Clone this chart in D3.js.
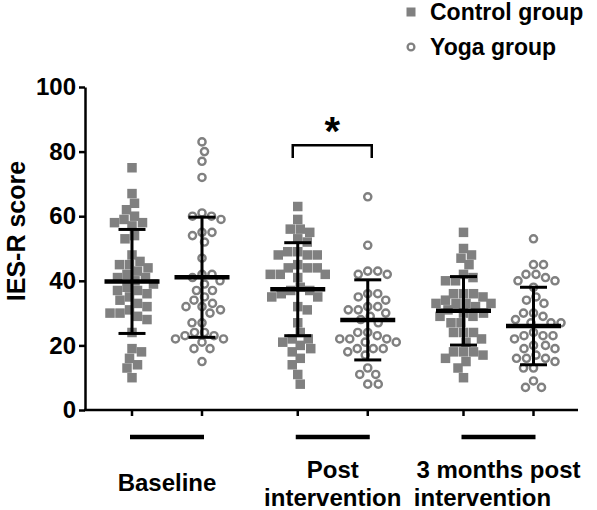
<!DOCTYPE html>
<html>
<head>
<meta charset="utf-8">
<script src="https://cdn.jsdelivr.net/npm/d3@7"></script>
<style>
  html, body { margin: 0; padding: 0; background: #fff; }
  svg { display: block; font-family: "Liberation Sans", Arial, sans-serif; font-weight: bold; }
</style>
</head>
<body>
<svg id="chart" width="597" height="510"></svg>
<script>
// ---------------- DATA ----------------
const groups = ["Baseline", "Post intervention", "3 months post intervention"];
const groupLabelLines = [["Baseline"], ["Post", "intervention"], ["3 months post", "intervention"]];
const series = ["Control group", "Yoga group"];
const yTicks = [0, 20, 40, 60, 80, 100];
const yTitle = "IES-R score";

const controlBaseline = [75, 67, 64, 62, 60, 59, 58, 58, 57, 54, 53, 48, 46, 45, 45, 44, 43, 42, 41, 41, 40, 39, 38, 37, 37, 36, 35, 34, 33, 32, 31, 30, 30, 29, 28, 24, 19, 18, 16, 14, 13, 10];
const yogaBaseline = [83, 80, 77, 72, 61, 60, 59, 60, 55, 54, 55, 52, 47, 42, 42, 41, 40, 39, 37, 37, 34, 35, 32, 32, 33, 30, 31, 27, 27, 23, 24, 23, 24, 22, 19, 22, 21, 19, 15];
const controlPost = [63, 59, 56, 55, 56, 53, 52, 49, 48, 48, 48, 49, 44, 44, 45, 44, 42, 42, 42, 41, 38, 37, 36, 37, 35, 35, 31, 32, 27, 24, 21, 22, 20, 22, 19, 18, 16, 14, 11, 8];
const yogaPost = [66, 51, 43, 42, 42, 43, 36, 35, 36, 34, 31, 30, 32, 32, 31, 28, 29, 27, 24, 24, 23, 22, 21, 22, 22, 21, 19, 19, 18, 19, 17, 13, 11, 8, 8, 11];
const control3m = [55, 50, 48, 47, 45, 42, 41, 40, 40, 36, 36, 35, 36, 34, 33, 33, 33, 33, 32, 31, 30, 29, 29, 30, 27, 27, 24, 24, 24, 22, 21, 18, 18, 17, 18, 16, 15, 13, 10];
const yoga3m = [53, 45, 45, 42, 41, 40, 40, 42, 38, 35, 33, 34, 30, 30, 29, 28, 27, 27, 27, 24, 23, 22, 23, 23, 20, 19, 19, 20, 17, 16, 15, 16, 16, 13, 13, 9, 7, 7];

const controlMeans = [39.8, 37.4, 30.7];
const controlSD = [16.1, 14.4, 10.6];
const yogaMeans = [41.1, 27.9, 26.0];
const yogaSD = [18.6, 12.4, 12.0];

const significance = [{ group: "Post intervention", level: 82, label: "*" }];

// ---------------- LAYOUT ----------------
const svg = d3.select("#chart");
const grey = "#808080";
const plotTop = 87, plotBottom = 410, axisX = 85, axisRight = 578;

const y = d3.scaleLinear().domain([0, 100]).range([plotBottom, plotTop]);
const xGroup = d3.scalePoint().domain(groups).range([167, 498.5]);
const xSeries = d3.scalePoint().domain(series).range([-35, 35]);
const xPos = (g, s) => xGroup(g) + xSeries(s);

const dataSets = [
  { group: groups[0], series: series[0], values: controlBaseline },
  { group: groups[0], series: series[1], values: yogaBaseline },
  { group: groups[1], series: series[0], values: controlPost },
  { group: groups[1], series: series[1], values: yogaPost },
  { group: groups[2], series: series[0], values: control3m },
  { group: groups[2], series: series[1], values: yoga3m }
];
const stats = [];
groups.forEach((g, i) => {
  stats.push({ group: g, series: series[0], mean: controlMeans[i], sd: controlSD[i] });
  stats.push({ group: g, series: series[1], mean: yogaMeans[i], sd: yogaSD[i] });
});

// beeswarm layout (collision-avoiding horizontal offsets)
function swarm(values, cx, d) {
  const pts = values.map(v => ({ v, y: y(v) })).sort((a, b) => a.y - b.y);
  const placed = [];
  for (const p of pts) {
    let off = 0;
    for (let k = 0; k < 400; k++) {
      const cand = (k % 2 === 1 ? 1 : -1) * Math.ceil(k / 2) * 0.5;
      if (!placed.some(q => Math.hypot(q.off - cand, q.y - p.y) < d)) { off = cand; break; }
    }
    p.off = off;
    placed.push(p);
  }
  return placed.map(p => ({ v: p.v, x: cx + p.off, y: p.y }));
}

// ---------------- AXES ----------------
const yAxis = d3.axisLeft(y).tickValues(yTicks).tickSize(6).tickPadding(3).tickSizeOuter(0);
const gy = svg.append("g").attr("transform", `translate(${axisX},0)`).call(yAxis);
gy.select(".domain").attr("stroke", "#000").attr("stroke-width", 2.5);
gy.selectAll(".tick line").attr("stroke", "#000").attr("stroke-width", 2.5);
gy.selectAll(".tick text").attr("fill", "#000").attr("font-size", 24).attr("font-weight", "bold")
  .attr("font-family", "'Liberation Sans', Arial, sans-serif");

// x axis baseline with ticks at each series position
svg.append("line").attr("x1", axisX - 1).attr("x2", axisRight)
  .attr("y1", plotBottom).attr("y2", plotBottom).attr("stroke", "#000").attr("stroke-width", 2.5);
svg.append("g").selectAll("line").data(dataSets).join("line")
  .attr("x1", d => xPos(d.group, d.series)).attr("x2", d => xPos(d.group, d.series))
  .attr("y1", plotBottom).attr("y2", plotBottom + 6).attr("stroke", "#000").attr("stroke-width", 2.5);

// group underline bars
svg.append("g").selectAll("line").data(groups).join("line")
  .attr("x1", g => xGroup(g) - 37).attr("x2", g => xGroup(g) + 37)
  .attr("y1", 437).attr("y2", 437).attr("stroke", "#000").attr("stroke-width", 4.5);

// group labels
const gl = svg.append("g").attr("font-size", 24).attr("fill", "#000").attr("text-anchor", "middle");
groups.forEach((g, i) => {
  const lines = groupLabelLines[i];
  if (lines.length === 1) {
    gl.append("text").attr("x", xGroup(g)).attr("y", 491).text(lines[0]);
  } else {
    gl.append("text").attr("x", xGroup(g)).attr("y", 478).text(lines[0]);
    gl.append("text").attr("x", xGroup(g) - (i === 2 ? 16 : 0)).attr("y", 506).text(lines[1]);
  }
});

// y title
svg.append("text").attr("transform", `translate(25,231) rotate(-90)`)
  .attr("text-anchor", "middle").attr("font-size", 25).attr("fill", "#000").text(yTitle);

// ---------------- POINTS ----------------
const ptsG = svg.append("g");
dataSets.forEach(ds => {
  const pts = swarm(ds.values, xPos(ds.group, ds.series), 10);
  if (ds.series === series[0]) {
    ptsG.append("g").selectAll("rect").data(pts).join("rect")
      .attr("x", d => d.x - 4.75).attr("y", d => d.y - 4.75)
      .attr("width", 9.5).attr("height", 9.5).attr("fill", grey);
  } else {
    ptsG.append("g").selectAll("circle").data(pts).join("circle")
      .attr("cx", d => d.x).attr("cy", d => d.y).attr("r", 3.6)
      .attr("fill", "#fff").attr("stroke", grey).attr("stroke-width", 2.4);
  }
});

// ---------------- MEAN ± SD ----------------
const eb = svg.append("g").attr("stroke", "#000");
stats.forEach(s => {
  const cx = xPos(s.group, s.series);
  eb.append("line").attr("x1", cx).attr("x2", cx).attr("y1", y(s.mean + s.sd)).attr("y2", y(s.mean - s.sd)).attr("stroke-width", 3);
  eb.append("line").attr("x1", cx - 13.5).attr("x2", cx + 13.5).attr("y1", y(s.mean + s.sd)).attr("y2", y(s.mean + s.sd)).attr("stroke-width", 3);
  eb.append("line").attr("x1", cx - 13.5).attr("x2", cx + 13.5).attr("y1", y(s.mean - s.sd)).attr("y2", y(s.mean - s.sd)).attr("stroke-width", 3);
  eb.append("line").attr("x1", cx - 27.5).attr("x2", cx + 27.5).attr("y1", y(s.mean)).attr("y2", y(s.mean)).attr("stroke-width", 4.5);
});

// ---------------- SIGNIFICANCE ----------------
significance.forEach(sig => {
  const x1 = xPos(sig.group, series[0]) - 5, x2 = xPos(sig.group, series[1]) + 4;
  svg.append("path")
    .attr("d", `M${x1},${y(sig.level - 4)}V${y(sig.level)}H${x2}V${y(sig.level - 4)}`)
    .attr("fill", "none").attr("stroke", "#000").attr("stroke-width", 2.5);
  svg.append("text").attr("x", (x1 + x2) / 2).attr("y", y(sig.level))
    .attr("text-anchor", "middle").attr("font-size", 40).attr("fill", "#000").text(sig.label);
});

// ---------------- LEGEND ----------------
const leg = svg.append("g");
leg.append("rect").attr("x", 406.5).attr("y", 7.5).attr("width", 9).attr("height", 9).attr("fill", grey);
leg.append("text").attr("x", 430).attr("y", 20).attr("font-size", 23).attr("fill", "#000").text(series[0]);
leg.append("circle").attr("cx", 411).attr("cy", 47).attr("r", 3.4).attr("fill", "#fff").attr("stroke", grey).attr("stroke-width", 2.3);
leg.append("text").attr("x", 430).attr("y", 55).attr("font-size", 23).attr("fill", "#000").text(series[1]);
</script>
</body>
</html>
